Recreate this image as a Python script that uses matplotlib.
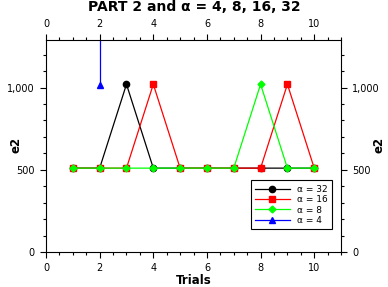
import matplotlib
matplotlib.use("Agg")
import matplotlib.pyplot as plt
from matplotlib.ticker import FuncFormatter, MultipleLocator

trials = [1, 2, 3, 4, 5, 6, 7, 8, 9, 10]
e2_a32 = [510, 510, 1020, 510, 510, 510, 510, 510, 510, 510]
e2_a16 = [510, 510, 510, 1020, 510, 510, 510, 510, 1020, 510]
e2_a8 = [510, 510, 510, 510, 510, 510, 510, 1020, 510, 510]
trials_a4 = [2, 2]
e2_a4 = [1015, 2000]  # second point runs off the top of the axes

fig = plt.figure(figsize=(3.88, 2.87), dpi=100)
ax = fig.add_axes([0.1186, 0.122, 0.7604, 0.739])

ax.plot(trials, e2_a32, color="black", marker="o", markersize=4.5, linewidth=0.9, label="α = 32")
ax.plot(trials, e2_a16, color="#ff0000", marker="s", markersize=5, linewidth=0.9, label="α = 16")
ax.plot(trials, e2_a8, color="#00ff00", marker="D", markersize=3.5, linewidth=0.9, label="α = 8")
ax.plot(trials_a4, e2_a4, color="#0000ff", marker="^", markersize=4.5, linewidth=0.9, label="α = 4")

ax.set_xlim(0, 11)
ax.set_ylim(0, 1290)
ax.xaxis.set_major_locator(MultipleLocator(2))
ax.xaxis.set_minor_locator(MultipleLocator(0.5))
ax.yaxis.set_major_locator(MultipleLocator(500))
ax.yaxis.set_minor_locator(MultipleLocator(100))
ax.yaxis.set_major_formatter(FuncFormatter(lambda v, p: f"{int(v):,}"))

ax.tick_params(which="both", direction="out", top=True, right=True,
               labeltop=True, labelright=True, labelsize=7, width=0.8, pad=4)
ax.tick_params(which="major", length=4)
ax.tick_params(which="minor", length=2.5)
for s in ax.spines.values():
    s.set_linewidth(0.8)

ax.set_xlabel("Trials", fontsize=8.5, fontweight="bold", labelpad=1)
fig.text(0.04, 0.495, "e2", rotation=90, ha="center", va="center",
         fontsize=8.5, fontweight="bold")
fig.text(0.978, 0.495, "e2", rotation=90, ha="center", va="center",
         fontsize=8.5, fontweight="bold")

fig.text(0.5, 0.974, "PART 2 and α = 4, 8, 16, 32", ha="center", va="center",
         fontsize=10, fontweight="bold")

leg = ax.legend(loc="lower right", bbox_to_anchor=(0.985, 0.085), fontsize=6.5,
                fancybox=False, framealpha=1, edgecolor="black",
                handlelength=3.8, borderpad=0.5, labelspacing=0.15,
                handletextpad=0.8)
leg.get_frame().set_linewidth(0.8)

fig.savefig("out.png", dpi=100)
